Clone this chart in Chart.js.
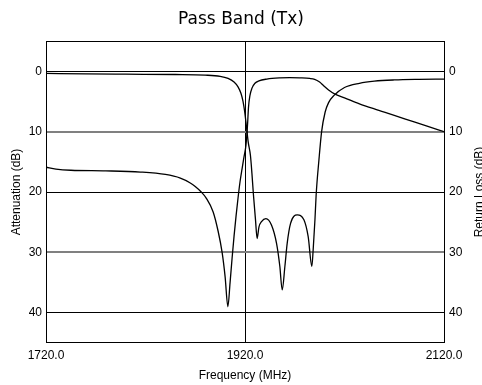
<!DOCTYPE html>
<html>
<head>
<meta charset="utf-8">
<script src="https://cdn.jsdelivr.net/npm/chart.js@4.4.1/dist/chart.umd.min.js"></script>
<style>
  body { margin: 0; background: #fff; }
  canvas { display: block; }
</style>
</head>
<body>
<canvas id="chart" width="482" height="385"></canvas>
<script>
// insertion loss (attenuation) trace
const ilFreq = [1720, 1730, 1745, 1780, 1815, 1840, 1855, 1865, 1870, 1876, 1881, 1888, 1893, 1897, 1900, 1902.8,
  1905, 1907, 1909, 1911, 1913, 1915, 1917, 1919, 1921, 1922.5, 1923.5, 1925, 1927, 1930, 1934,
  1942, 1955, 1965, 1975, 1985, 1990, 1995, 1999, 2004, 2010, 2020, 2035, 2050, 2070, 2090, 2103, 2120];
const ilDb = [15.9, 16.2, 16.4, 16.5, 16.7, 17.1, 17.7, 18.5, 19.1, 20, 21, 23.3, 26.5, 30, 34, 39,
  35, 31, 27.3, 24, 21, 18.3, 16.2, 14.2, 12.2, 9, 6, 4, 2.8, 2.0, 1.6,
  1.3, 1.1, 1.05, 1.1, 1.2, 1.35, 1.8, 2.4, 3.1, 3.75, 4.4, 5.4, 6.25, 7.3, 8.4, 9.1, 10];

// return loss trace
const rlFreq = [1720, 1760, 1800, 1850, 1880, 1895, 1903, 1909, 1913, 1916, 1918, 1919.5, 1921, 1923.2, 1925.5,
  1927, 1928.5, 1930.5, 1932.2, 1934, 1936.6, 1941, 1946.7, 1951.7, 1955, 1957.4, 1960.1, 1962.4, 1965.8,
  1972.5, 1979.2, 1983.5, 1987.2, 1988.5, 1990.3, 1991.5, 1994.3, 1997, 2000.5, 2004, 2009.5, 2020, 2035,
  2050, 2070, 2095, 2120];
const rlDb = [0.35, 0.45, 0.5, 0.55, 0.65, 0.85, 1.2, 1.8, 2.6, 3.7, 5, 6.5, 8.5, 11.7, 14,
  17, 20.5, 24.5, 27.7, 25.8, 24.9, 24.4, 25.5, 28.5, 32.3, 36.2, 32.3, 28.5, 25.2,
  23.8, 24.6, 27.4, 32.3, 29.6, 24.6, 20.5, 14.7, 10, 6.8, 5.2, 4.0, 2.7, 2.0,
  1.65, 1.45, 1.35, 1.3];

const xTicks = [1720, 1920, 2120];
const yTicks = [0, 10, 20, 30, 40];

const toPoints = (xs, ys) => xs.map((x, i) => ({ x: x, y: ys[i] }));
const labelFont = { family: 'Liberation Sans', size: 12 };

// box round the plot + right axis title (reads bottom to top like the left one)
const framePlugin = {
  id: 'frame',
  afterDraw(chart) {
    const { ctx, chartArea: a } = chart;
    ctx.save();
    ctx.strokeStyle = '#000';
    ctx.lineWidth = 1;
    ctx.strokeRect(a.left + 0.5, a.top + 0.5, a.right - a.left, a.bottom - a.top - 1);
    ctx.fillStyle = '#000';
    ctx.font = '12px "Liberation Sans"';
    ctx.translate(473.5, (a.top + a.bottom) / 2);
    ctx.rotate(-Math.PI / 2);
    ctx.textAlign = 'center';
    ctx.textBaseline = 'top';
    ctx.fillText('Return Loss (dB)', 0, 0);
    ctx.restore();
  }
};

const setTicks = list => scale => {
  scale.ticks = list.map(v => ({ value: v }));
};

// the 10 and 30 lines come out soft grey in the original
const yGridColor = c => (c.tick && (c.tick.value === 10 || c.tick.value === 30)) ? '#808080' : '#000';
const yGridWidth = c => (c.tick && (c.tick.value === 10 || c.tick.value === 30)) ? 2 : 1;

new Chart(document.getElementById('chart').getContext('2d'), {
  type: 'line',
  data: {
    datasets: [
      {
        label: 'Attenuation',
        data: toPoints(ilFreq, ilDb),
        borderColor: '#000',
        borderWidth: 1.3,
        pointRadius: 0,
        cubicInterpolationMode: 'monotone'
      },
      {
        label: 'Return Loss',
        data: toPoints(rlFreq, rlDb),
        borderColor: '#000',
        borderWidth: 1.3,
        pointRadius: 0,
        cubicInterpolationMode: 'monotone'
      }
    ]
  },
  options: {
    responsive: false,
    animation: false,
    devicePixelRatio: 1,
    layout: { padding: 0 },
    plugins: {
      legend: { display: false },
      tooltip: { enabled: false },
      title: {
        display: true,
        text: 'Pass Band (Tx)',
        color: '#000',
        font: { family: 'DejaVu Sans', size: 17, weight: 'normal', lineHeight: 1.1 },
        padding: { top: 10, bottom: 12.3 }
      }
    },
    scales: {
      x: {
        type: 'linear',
        min: 1720,
        max: 2120,
        afterBuildTicks: setTicks(xTicks),
        afterFit: s => { s.height = 42; },
        grid: { color: '#000', drawTicks: false },
        border: { display: false },
        ticks: { color: '#000', font: labelFont, padding: 5, maxRotation: 0, callback: v => v.toFixed(1) },
        title: { display: true, text: 'Frequency (MHz)', color: '#000', font: labelFont, padding: { top: 0, bottom: 2 } }
      },
      y: {
        min: -5,
        max: 45,
        reverse: true,
        afterBuildTicks: setTicks(yTicks),
        afterFit: s => { s.width = 46; },
        grid: { color: yGridColor, lineWidth: yGridWidth, drawTicks: false },
        border: { display: false },
        ticks: { color: '#000', font: labelFont, padding: 4 },
        title: { display: true, text: 'Attenuation (dB)', color: '#000', font: labelFont, padding: { top: 9, bottom: 0 } }
      },
      y2: {
        position: 'right',
        min: -5,
        max: 45,
        reverse: true,
        afterBuildTicks: setTicks(yTicks),
        afterFit: s => { s.width = 38; },
        grid: { display: false, drawTicks: false },
        border: { display: false },
        ticks: { color: '#000', font: labelFont, padding: 5 }
      }
    }
  },
  plugins: [framePlugin]
});
</script>
</body>
</html>
